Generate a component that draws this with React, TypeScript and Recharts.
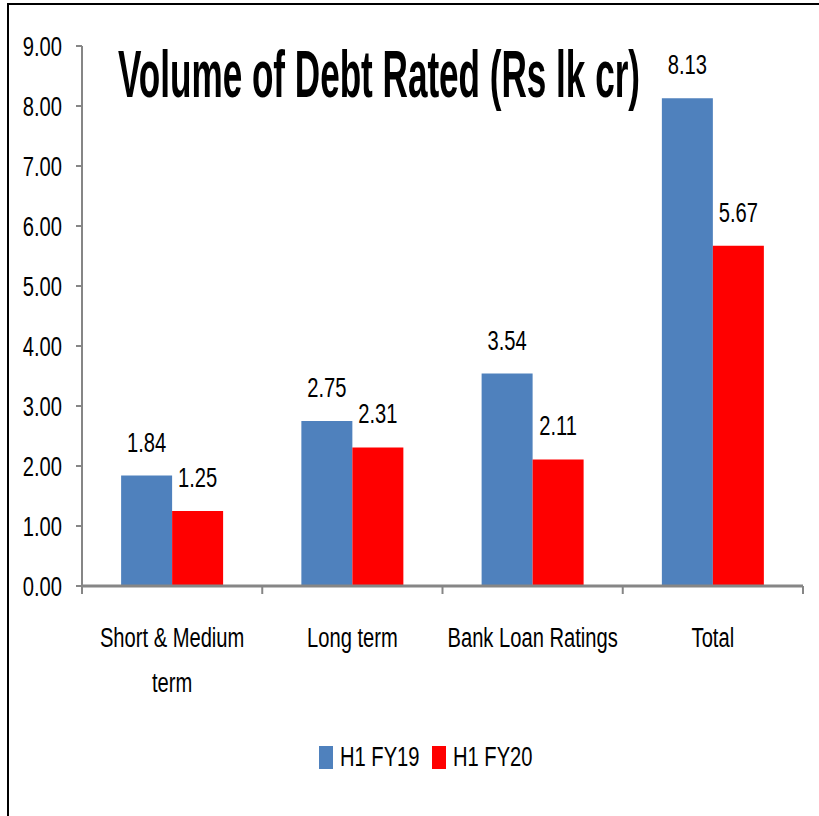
import React from "react";
import { Bar, BarChart, LabelList, Legend, XAxis, YAxis } from "recharts";

const categories = ["Short & Medium term", "Long term", "Bank Loan Ratings", "Total"];
const fy19 = [1.84, 2.75, 3.54, 8.13];
const fy20 = [1.25, 2.31, 2.11, 5.67];
const yTicks = [0, 1, 2, 3, 4, 5, 6, 7, 8, 9];
const series = [
  { key: "fy19", name: "H1 FY19", color: "#4F81BD" },
  { key: "fy20", name: "H1 FY20", color: "#FF0000" },
];

const data = categories.map((name, i) => ({ name, fy19: fy19[i], fy20: fy20[i] }));

const FONT = '"Liberation Sans", Arial, sans-serif';
const AXIS = "#868686";
const SQUEEZE = 0.72;

// narrow text: the original uses a condensed face, so squash Liberation Sans
function NarrowText({ x, y, anchor = "middle", size = 28, children }: any) {
  return (
    <g transform={`translate(${x},${y}) scale(${SQUEEZE},1)`}>
      <text x={0} y={0} textAnchor={anchor} fontSize={size} fontFamily={FONT} fill="#000">
        {children}
      </text>
    </g>
  );
}

function wrap(label: string) {
  if (label.length <= 17) return [label];
  const words = label.split(" ");
  const first: string[] = [];
  while (words.length && [...first, words[0]].join(" ").length <= 14) first.push(words.shift() as string);
  return [first.join(" "), words.join(" ")];
}

function CatTick(props: any) {
  const { x, y, payload, width, visibleTicksCount, index } = props;
  const band = width / visibleTicksCount;
  const lines = wrap(payload.value);
  return (
    <g>
      <line x1={x - band / 2} x2={x - band / 2} y1={y} y2={y + 8} stroke={AXIS} strokeWidth={2} />
      {index === visibleTicksCount - 1 && (
        <line x1={x + band / 2} x2={x + band / 2} y1={y} y2={y + 8} stroke={AXIS} strokeWidth={2} />
      )}
      {lines.map((l, i) => (
        <NarrowText key={i} x={x} y={y + 61 + i * 45}>
          {l}
        </NarrowText>
      ))}
    </g>
  );
}

function YTick(props: any) {
  const { x, y, payload } = props;
  return (
    <NarrowText x={x} y={y + 10} anchor="end">
      {Number(payload.value).toFixed(2)}
    </NarrowText>
  );
}

function ValueLabel(props: any) {
  const { x, y, width, value } = props;
  return (
    <NarrowText x={x + width / 2} y={y - 24}>
      {Number(value).toFixed(2)}
    </NarrowText>
  );
}

function LegendBox() {
  return (
    <svg width={819} height={31}>
      {series.map((s, i) => (
        <g key={s.key} transform={`translate(${319 + i * 113},0)`}>
          <rect x={0} y={4} width={14} height={23} fill={s.color} />
          <NarrowText x={21} y={24} anchor="start">
            {s.name}
          </NarrowText>
        </g>
      ))}
    </svg>
  );
}

export default function App() {
  return (
    <div style={{ position: "absolute", left: 0, top: 0, width: 819, height: 816, background: "#fff" }}>
      <div
        style={{
          position: "absolute",
          left: 7,
          top: 3,
          width: 812,
          height: 813,
          borderLeft: "2px solid #000",
          borderTop: "2px solid #000",
        }}
      />
      <BarChart
        width={819}
        height={816}
        data={data}
        margin={{ top: 46, right: 16, left: 0, bottom: 0 }}
        barCategoryGap="21.7%"
        barGap={0}
      >
        <XAxis
          dataKey="name"
          height={199}
          axisLine={{ stroke: AXIS, strokeWidth: 3 }}
          tickLine={false}
          tickSize={0}
          tickMargin={0}
          tick={<CatTick />}
          interval={0}
        />
        <YAxis
          width={82}
          domain={[0, 9]}
          ticks={yTicks}
          interval={0}
          axisLine={{ stroke: AXIS, strokeWidth: 2 }}
          tickLine={{ stroke: AXIS, strokeWidth: 2 }}
          tickSize={6}
          tickMargin={14}
          tick={<YTick />}
        />
        <Legend verticalAlign="bottom" content={<LegendBox />} wrapperStyle={{ bottom: 43, left: 0, height: 31 }} />
        {series.map((s) => (
          <Bar key={s.key} dataKey={s.key} name={s.name} fill={s.color} isAnimationActive={false}>
            <LabelList dataKey={s.key} content={<ValueLabel />} />
          </Bar>
        ))}
      </BarChart>
      <svg style={{ position: "absolute", left: 0, top: 0 }} width={819} height={140}>
        <text
          x={118}
          y={97}
          textLength={522}
          lengthAdjust="spacingAndGlyphs"
          fontSize={66}
          fontWeight="bold"
          fontFamily={FONT}
          fill="#000"
        >
          Volume of Debt Rated (Rs lk cr)
        </text>
      </svg>
    </div>
  );
}
